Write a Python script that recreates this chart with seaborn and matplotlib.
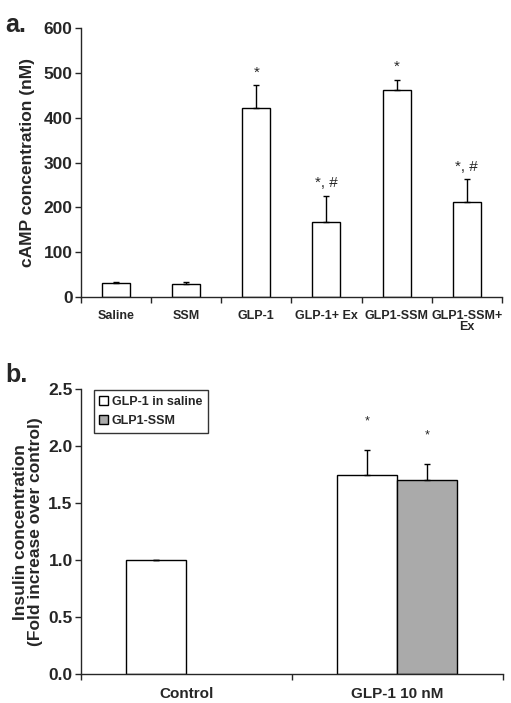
import numpy as np
import pandas as pd
import seaborn as sns
import matplotlib.pyplot as plt
from matplotlib.ticker import FixedLocator

# panel a data
camp_groups = ['Saline', 'SSM', 'GLP-1', 'GLP-1+ Ex', 'GLP1-SSM', 'GLP1-SSM+\nEx']
camp_mean = [31, 30, 421, 168, 463, 213]
camp_err = [3, 3, 51, 58, 22, 50]
camp_marks = ['', '', '*', '*, #', '*', '*, #']

# panel b data
ins_group = ['Control', 'GLP-1 10 nM', 'GLP-1 10 nM']
ins_series = ['GLP-1 in saline', 'GLP-1 in saline', 'GLP1-SSM']
ins_mean = [1.0, 1.75, 1.70]
ins_err = [0.005, 0.215, 0.14]
ins_marks = ['', '*', '*']

sns.set_style('ticks')
plt.rcParams['font.family'] = ['Liberation Sans', 'DejaVu Sans']
plt.rcParams['font.weight'] = 'bold'

fig = plt.figure(figsize=(5.11, 7.03), dpi=100)
ax1 = fig.add_axes([0.1585, 0.5775, 0.8235, 0.3825])
ax2 = fig.add_axes([0.1585, 0.0408, 0.8255, 0.4059])


def add_errors(ax, bars, errs, marks, mark_gap, size):
    for bar, e, m in zip(bars, errs, marks):
        xc = bar.get_x() + bar.get_width() / 2
        h = bar.get_height()
        ax.errorbar([xc], [h], yerr=[[0], [e]], fmt='none', ecolor='black',
                    elinewidth=1, capsize=2.5, capthick=1)
        if m:
            ax.text(xc, h + e + mark_gap, m, ha='center', va='bottom',
                    fontsize=size, fontweight='normal')


def style_axis(ax, n):
    sns.despine(ax=ax)
    ax.set_xlim(-0.5, n - 0.5)
    ax.tick_params(axis='x', which='major', length=0, pad=9)
    ax.xaxis.set_minor_locator(FixedLocator(np.arange(-0.5, n, 1.0)))
    ax.tick_params(axis='x', which='minor', length=4, width=1, direction='out')
    ax.tick_params(axis='y', length=4, width=1, direction='out', labelsize=12.5, pad=2)
    for s in ['left', 'bottom']:
        ax.spines[s].set_linewidth(1)


# panel a
sns.barplot(x=camp_groups, y=camp_mean, color='white', edgecolor='black',
            linewidth=1, width=0.4, ax=ax1)
add_errors(ax1, ax1.containers[0], camp_err, camp_marks, 12, 11)
style_axis(ax1, len(camp_groups))
ax1.set_ylim(0, 600)
ax1.set_yticks(range(0, 601, 100))
ax1.set_ylabel('cAMP concentration (nM)', fontsize=12.5, fontweight='bold', labelpad=6)
for lab in ax1.get_xticklabels():
    lab.set_fontsize(9)
    lab.set_fontweight('bold')
    lab.set_linespacing(0.9)
    lab.set_va('top')
for lab in ax1.get_yticklabels():
    lab.set_fontweight('bold')

# panel b
ins_df = pd.DataFrame({'group': ins_group, 'series': ins_series, 'value': ins_mean})
sns.barplot(data=ins_df, x='group', y='value', hue='series',
            hue_order=['GLP-1 in saline', 'GLP1-SSM'],
            palette=['white', '#aaaaaa'], edgecolor='black', linewidth=1,
            width=0.57, ax=ax2)
bars_b = list(ax2.containers[0]) + list(ax2.containers[1])
add_errors(ax2, bars_b, ins_err, ins_marks, 0.2, 9)
style_axis(ax2, 2)
ax2.tick_params(axis='x', which='major', pad=9)
ax2.set_ylim(0, 2.5)
ax2.set_yticks(np.arange(0, 2.51, 0.5))
ax2.set_yticklabels([f'{v:.1f}' for v in np.arange(0, 2.51, 0.5)])
ax2.set_xlabel('')
ax2.set_ylabel('Insulin concentration\n(Fold increase over control)', fontsize=12.5,
               fontweight='bold', labelpad=4, linespacing=1.0)
for lab in ax2.get_xticklabels():
    lab.set_fontsize(11)
    lab.set_fontweight('bold')
for lab in ax2.get_yticklabels():
    lab.set_fontweight('bold')
leg = ax2.legend(loc='upper left', bbox_to_anchor=(0.03, 0.995), frameon=True,
                 fancybox=False, edgecolor='black', prop={'weight': 'bold', 'size': 9},
                 handlelength=0.7, handleheight=0.7, handletextpad=0.3,
                 borderpad=0.45, labelspacing=0.55, borderaxespad=0)
leg.get_frame().set_linewidth(1)

fig.text(0.01, 0.955, 'a.', fontsize=18, fontweight='bold')
fig.text(0.01, 0.457, 'b.', fontsize=18, fontweight='bold')

fig.savefig('out.png', dpi=100)
